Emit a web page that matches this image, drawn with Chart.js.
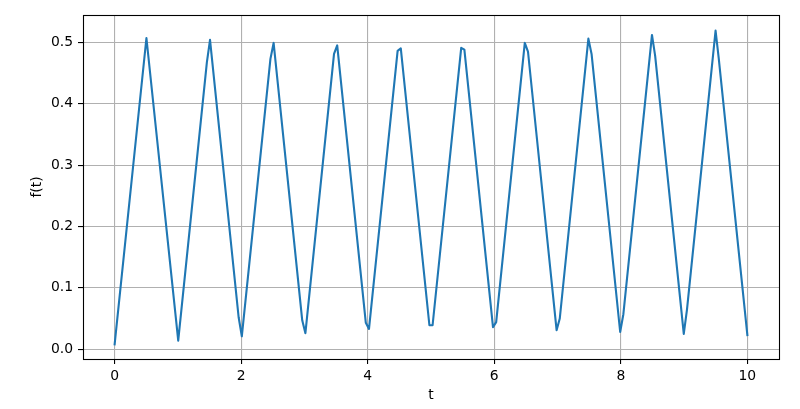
<!DOCTYPE html>
<html>
<head>
<meta charset="utf-8">
<script src="https://cdn.jsdelivr.net/npm/chart.js@4/dist/chart.umd.min.js"></script>
<style>
  html, body { margin: 0; padding: 0; background: #ffffff; }
  #wrap { width: 800px; height: 409px; }
</style>
</head>
<body>
<div id="wrap"><canvas id="c" width="800" height="409"></canvas></div>
<script>
// Sample times (t) and read values f(t) at the line's vertices
const tValues = [
  0, 0.5025, 1.0050,
  1.4573, 1.5075, 1.9598, 2.0101,
  2.4623, 2.5126, 2.9648, 3.0151,
  3.4673, 3.5176, 3.9698, 4.0201,
  4.4724, 4.5226, 4.9749, 5.0251,
  5.4774, 5.5276, 5.9799, 6.0302,
  6.4824, 6.5327, 6.9849, 7.0352,
  7.4874, 7.5377, 7.9899, 8.0402,
  8.4925, 8.5427, 8.9950, 9.0452,
  9.4975, 9.5477, 10
];
const fValues = [
  0.008, 0.507, 0.014,
  0.467, 0.504, 0.052, 0.021,
  0.473, 0.499, 0.047, 0.026,
  0.481, 0.495, 0.043, 0.033,
  0.486, 0.490, 0.039, 0.039,
  0.491, 0.488, 0.036, 0.044,
  0.499, 0.485, 0.031, 0.050,
  0.506, 0.481, 0.028, 0.057,
  0.512, 0.478, 0.025, 0.064,
  0.519, 0.474, 0.023
];
const xTicks = [0, 2, 4, 6, 8, 10];
const yTicks = [0.0, 0.1, 0.2, 0.3, 0.4, 0.5];
const xLabel = 't';
const yLabel = 'f(t)';

const points = tValues.map((t, i) => ({ x: t, y: fValues[i] }));

const frame = {
  id: 'frame',
  afterDraw(chart) {
    const a = chart.chartArea;
    const ctx = chart.ctx;
    ctx.save();
    ctx.strokeStyle = '#000000';
    ctx.lineWidth = 1.1;
    ctx.strokeRect(Math.round(a.left) + 0.5, Math.round(a.top) + 0.5,
                   Math.round(a.right - a.left), Math.round(a.bottom - a.top));
    ctx.restore();
  }
};

const font = { family: 'DejaVu Sans', size: 13.9 };

new Chart(document.getElementById('c'), {
  type: 'line',
  data: {
    datasets: [{
      data: points,
      borderColor: '#1f77b4',
      borderWidth: 2.1,
      borderJoinStyle: 'round',
      borderCapStyle: 'square',
      pointRadius: 0,
      tension: 0,
      fill: false
    }]
  },
  options: {
    responsive: false,
    animation: false,
    parsing: true,
    layout: { padding: { left: 0, right: 21, top: 15, bottom: 0 } },
    plugins: { legend: { display: false }, tooltip: { enabled: false } },
    scales: {
      x: {
        type: 'linear',
        min: -0.5,
        max: 10.5,
        afterBuildTicks: s => { s.ticks = xTicks.map(v => ({ value: v })); },
        afterFit: s => { s.height = 50; },
        grid: { color: '#b0b0b0', lineWidth: 1.1, tickColor: '#000000', tickLength: 5, drawOnChartArea: true },
        border: { display: false },
        ticks: { color: '#000000', font: font, padding: 4, maxRotation: 0, autoSkip: false,
                 callback: v => String(v) },
        title: { display: true, text: xLabel, color: '#000000', font: font, padding: { top: 0, bottom: 5 } }
      },
      y: {
        type: 'linear',
        min: -0.016,
        max: 0.5445,
        afterBuildTicks: s => { s.ticks = yTicks.map(v => ({ value: v })); },
        afterFit: s => { s.width = 83; },
        grid: { color: '#b0b0b0', lineWidth: 1.1, tickColor: '#000000', tickLength: 5, drawOnChartArea: true },
        border: { display: false },
        ticks: { color: '#000000', font: font, padding: 5, autoSkip: false,
                 callback: v => Number(v).toFixed(1) },
        title: { display: true, text: yLabel, color: '#000000', font: font, padding: { top: 29, bottom: 0 } }
      }
    }
  },
  plugins: [frame]
});
</script>
</body>
</html>
